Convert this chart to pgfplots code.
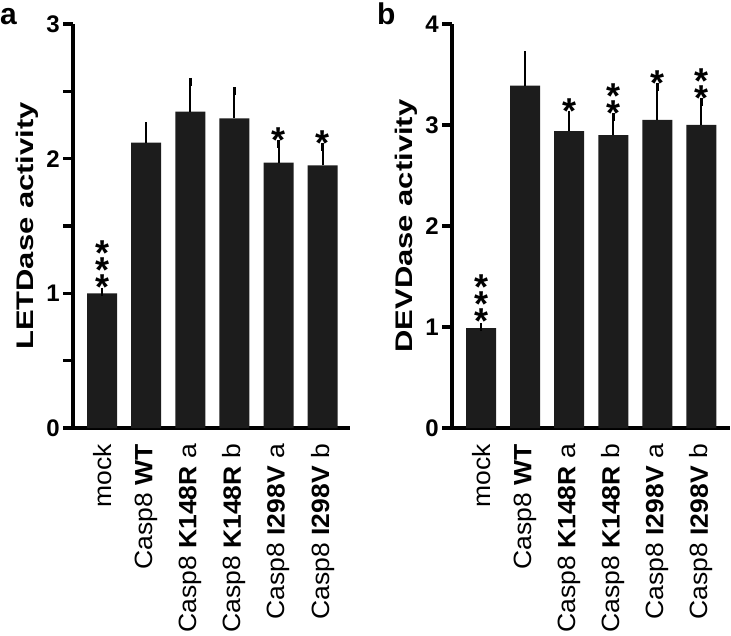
\documentclass[border=0pt]{standalone}
\usepackage{fontspec}
\setmainfont{Liberation Sans}
\usepackage{graphicx}
\usepackage{pgfplots}
\usepackage{pgfplotstable}
\pgfplotsset{compat=1.18}
\definecolor{barc}{HTML}{1C1C1C}
\newcommand\twostar{*\llap{\raisebox{17pt}{*}}}
\newcommand\threestar{*\llap{\raisebox{17pt}{*}}\llap{\raisebox{34pt}{*}}}
\newcommand\stk[1]{\ifcase#1\relax\or*\or\twostar\or\threestar\fi}
\newcommand\xl[1]{\scalebox{1.06}[1]{#1}}

\pgfplotstableread{
x y e top s
0 1.00 0.01 1.02 3
1 2.12 0.12 2.24 0
2 2.35 0.22 2.57 0
3 2.30 0.20 2.50 0
4 1.97 0.14 2.11 1
5 1.95 0.14 2.09 1
}\tableA

\pgfplotstableread{
x y e top s
0 0.99 0.01 1.02 3
1 3.39 0.30 3.69 0
2 2.94 0.16 3.10 1
3 2.90 0.18 3.08 2
4 3.05 0.33 3.38 1
5 3.00 0.23 3.23 2
}\tableB

\pgfplotsset{
  panel/.style={
    scale only axis, height=404pt,
    axis lines=left,
    axis line style={-, line width=3.5pt},
    ymin=0,
    tick align=outside,
    major tick length=10pt, minor tick length=10pt,
    ytick style={line width=3.5pt, black},
    minor tick style={line width=3.5pt, black},
    xtick style={draw=none},
    xtick={0,...,5},
    xticklabels={\xl{mock},\xl{Casp8 \textbf{WT}},\xl{Casp8 \textbf{K148R} a},\xl{Casp8 \textbf{K148R} b},\xl{Casp8 \textbf{I298V} a},\xl{Casp8 \textbf{I298V} b}},
    xticklabel style={rotate=90, anchor=east, font=\fontsize{25}{25}\selectfont, inner sep=0pt, xshift=-6pt},
    yticklabel style={font=\fontsize{24}{24}\selectfont\bfseries, /pgf/number format/assume math mode=true, anchor=east, inner sep=0pt, xshift=-3pt},
    every axis y label/.style={at={(axis description cs:-0.166,0.5)}, rotate=90, anchor=center, font=\fontsize{24}{24}\selectfont\bfseries},
  },
  bars/.style={ybar, bar width=30pt, fill=barc, draw=none,
    error bars/.cd, y dir=plus, y explicit, error mark=-,
    error bar style={line width=2pt, black},
    error mark options={line width=2.5pt, mark size=4pt, black}},
  stars/.style={draw=none, mark=none, point meta=explicit symbolic,
    nodes near coords={\stk{\pgfplotspointmeta}},
    every node near coord/.append style={font=\fontsize{36}{36}\selectfont\bfseries, anchor=south, inner sep=0pt, yshift=-9pt}},
}

\begin{document}
\begin{tikzpicture}
\begin{axis}[panel, at={(73pt,207pt)}, anchor=south west, width=277pt,
  xmin=-0.66, xmax=5.62, ymax=3,
  ytick={0,1,2,3}, minor ytick={0.5,1.5,2.5},
  ylabel={\scalebox{1.29}[1]{LETDase activity}}]
\addplot[bars] table[x=x, y=y, y error=e]{\tableA};
\addplot[stars] table[x=x, y=top, meta=s]{\tableA};
\end{axis}
\begin{axis}[panel, at={(452pt,207pt)}, anchor=south west, width=278pt,
  xmin=-0.66, xmax=5.65, ymax=4,
  ytick={0,1,2,3,4},
  ylabel={\scalebox{1.29}[1]{DEVDase activity}}]
\addplot[bars] table[x=x, y=y, y error=e]{\tableB};
\addplot[stars] table[x=x, y=top, meta=s]{\tableB};
\end{axis}
\node[anchor=base west, inner sep=0pt, font=\fontsize{30}{30}\selectfont\bfseries] at (0pt,610pt) {a};
\node[anchor=base west, inner sep=0pt, font=\fontsize{30}{30}\selectfont\bfseries] at (377pt,610pt) {b};
\pgfresetboundingbox
\path (0,0) rectangle (731pt,635pt);
\end{tikzpicture}
\end{document}
